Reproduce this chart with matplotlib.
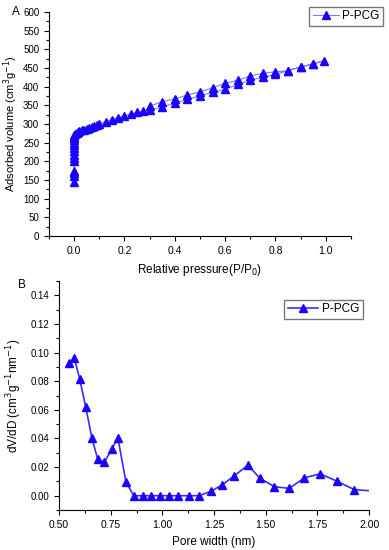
import matplotlib
matplotlib.use("Agg")
import matplotlib.pyplot as plt
from matplotlib.ticker import MultipleLocator

plt.rcParams['font.family'] = ['Liberation Sans', 'DejaVu Sans']

# N2 isotherm: adsorption branch then desorption branch
p_ads = [0.0, 0.0, 0.0, 0.0, 0.0, 0.0, 0.0, 0.0, 0.0, 0.0, 0.0, 0.0, 0.0, 0.0, 0.0,
         0.005, 0.01, 0.015, 0.02, 0.03, 0.04, 0.05, 0.06, 0.07, 0.08, 0.09, 0.1,
         0.125, 0.15, 0.175, 0.2, 0.225, 0.25, 0.275, 0.3, 0.35, 0.4, 0.45, 0.5,
         0.55, 0.6, 0.65, 0.7, 0.75, 0.8, 0.85, 0.9, 0.95, 0.995]
v_ads = [145, 160, 168, 175, 200, 210, 218, 228, 236, 243, 250, 256, 262, 266, 270,
         272, 276, 278, 280, 283, 285, 287, 289, 292, 294, 297, 300,
         306, 312, 317, 321, 327, 331, 334, 337, 346, 356, 366, 375,
         385, 393, 406, 417, 425, 433, 443, 453, 461, 470]
p_des = [0.95, 0.9, 0.85, 0.8, 0.75, 0.7, 0.65, 0.6, 0.55, 0.5, 0.45, 0.4, 0.35, 0.3]
v_des = [461, 453, 443, 440, 436, 429, 417, 409, 397, 386, 378, 367, 360, 348]

# pore size distribution
width = [0.548, 0.574, 0.600, 0.629, 0.658, 0.687, 0.719, 0.755, 0.784, 0.823,
         0.861, 0.906, 0.945, 0.987, 1.032, 1.077, 1.127, 1.177, 1.234, 1.290,
         1.348, 1.413, 1.472, 1.542, 1.613, 1.687, 1.763, 1.843, 1.929, 2.0]
dvdd = [0.0924, 0.0959, 0.0813, 0.0618, 0.0406, 0.0253, 0.0235, 0.0325, 0.0406, 0.0098,
        0.0, 0.0, 0.0, 0.0, 0.0, 0.0, 0.0, 0.0, 0.0030, 0.0077,
        0.0139, 0.0214, 0.0121, 0.0063, 0.0051, 0.0125, 0.0153, 0.0102, 0.0042, 0.0035]

fig = plt.figure(figsize=(3.89, 5.5), dpi=100)
ax1 = fig.add_axes([0.126, 0.571, 0.776, 0.407])
ax2 = fig.add_axes([0.152, 0.0727, 0.797, 0.4163])

fs = 7
lfs = 8.5
marker_col = '#1a00ff'

# top panel
ax1.plot(p_ads + p_des, v_ads + v_des, color='#7b7bff', lw=0.8, marker='^',
         ms=5.5, mfc=marker_col, mec=marker_col, label='P-PCG')
ax1.set_xlim(-0.1, 1.1)
ax1.set_ylim(0, 600)
ax1.xaxis.set_minor_locator(MultipleLocator(0.1))
ax1.yaxis.set_major_locator(MultipleLocator(50))
ax1.yaxis.set_minor_locator(MultipleLocator(25))
ax1.set_xticks([0.0, 0.2, 0.4, 0.6, 0.8, 1.0])
ax1.set_xlabel('Relative pressure(P/P$_0$)', fontsize=lfs, labelpad=4)
ax1.set_ylabel('Adsorbed volume (cm$^3$g$^{-1}$)', fontsize=8, labelpad=2)
ax1.legend(loc='upper right', bbox_to_anchor=(0.985, 0.988), bbox_transform=fig.transFigure,
           fontsize=lfs, frameon=True, fancybox=False, edgecolor='#555555',
           handlelength=2.2, borderpad=0.3, handletextpad=0.3, borderaxespad=0)
fig.text(0.03, 0.978, 'A', fontsize=lfs, va='center')

# bottom panel
ax2.plot(width, dvdd, color='#3a2bff', lw=1.2, marker='^', ms=5.5,
         mfc=marker_col, mec=marker_col, markevery=list(range(len(width) - 1)),
         label='P-PCG')
ax2.set_xlim(0.5, 2.0)
ax2.xaxis.set_major_locator(MultipleLocator(0.25))
ax2.xaxis.set_minor_locator(MultipleLocator(0.125))
ax2.yaxis.set_minor_locator(MultipleLocator(0.01))
ax2.set_yticks([0.0, 0.02, 0.04, 0.06, 0.08, 0.10, 0.12, 0.14])
ax2.set_ylim(-0.01, 0.15)
ax2.xaxis.set_major_formatter(plt.FormatStrFormatter('%.2f'))
ax2.yaxis.set_major_formatter(plt.FormatStrFormatter('%.2f'))
ax2.set_xlabel('Pore width (nm)', fontsize=lfs, labelpad=4)
ax2.set_ylabel('dV/dD (cm$^3$g$^{-1}$nm$^{-1}$)', fontsize=lfs, labelpad=5)
ax2.legend(loc='upper right', bbox_to_anchor=(0.933, 0.455), bbox_transform=fig.transFigure,
           fontsize=lfs, frameon=True, fancybox=False, edgecolor='#555555',
           handlelength=2.6, borderpad=0.3, handletextpad=0.3, borderaxespad=0)
fig.text(0.045, 0.482, 'B', fontsize=lfs, va='center')

for ax in (ax1, ax2):
    ax.spines['top'].set_visible(False)
    ax.spines['right'].set_visible(False)
    ax.tick_params(which='major', direction='out', length=3.5, width=0.8, labelsize=fs)
    ax.tick_params(which='minor', direction='out', length=2, width=0.8)
    ax.tick_params(axis='x', pad=4, labelsize=7.5)

fig.savefig('out.png', dpi=100)
